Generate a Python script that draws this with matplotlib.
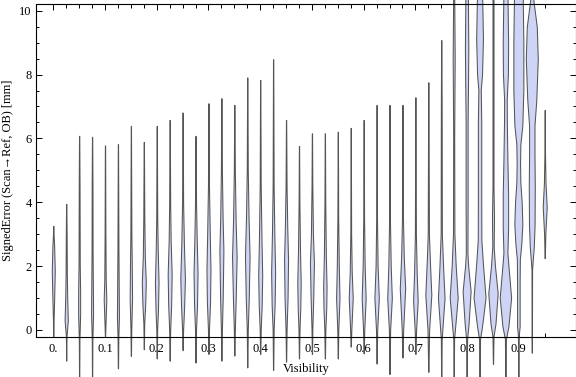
import matplotlib
matplotlib.use("Agg")
import matplotlib.pyplot as plt
import numpy as np

plt.rcParams["font.family"] = ["Liberation Serif", "DejaVu Serif"]
plt.rcParams["font.size"] = 9

# one violin per visibility bin (bin width 0.025)
visibility = [0.025 * i for i in range(39)]

# density profile of each violin: (signed error [mm], relative half width)
profiles = [
    [(-0.2, 0), (0.3, 0.3), (1.0, 0.9), (1.85, 1.5), (2.6, 0.9), (3.0, 0.3), (3.26, 0)],
    [(-0.96, 0), (-0.2, 0.3), (0.3, 1.6), (1.0, 1.0), (1.8, 0.6), (3.0, 0.4), (3.95, 0)],
    [(-1.6, 0), (-0.3, 0.3), (0.5, 1.0), (1.2, 1.0), (2.0, 0.6), (4.5, 0.4), (6.08, 0)],
    [(-1.6, 0), (-0.3, 0.3), (0.5, 1.0), (1.3, 0.8), (2.5, 0.5), (4.5, 0.4), (6.05, 0)],
    [(-0.2, 0), (0.3, 0.6), (0.95, 1.3), (1.6, 0.7), (3.0, 0.4), (5.78, 0)],
    [(-1.2, 0), (-0.2, 0.4), (0.4, 1.0), (1.2, 0.8), (2.5, 0.5), (5.82, 0)],
    [(-0.81, 0), (0.0, 0.4), (1.0, 1.2), (2.0, 0.9), (3.0, 0.5), (6.39, 0)],
    [(-0.6, 0), (0.2, 0.4), (0.8, 1.4), (1.5, 2.0), (2.3, 1.0), (3.5, 0.5), (5.89, 0)],
    [(-0.89, 0), (0.0, 0.4), (0.6, 1.2), (1.5, 1.8), (2.5, 1.0), (3.5, 0.5), (6.39, 0)],
    [(-0.96, 0), (0.0, 0.5), (0.8, 1.5), (1.75, 2.0), (2.8, 1.0), (4.0, 0.5), (6.58, 0)],
    [(-0.63, 0), (0.0, 0.5), (0.7, 1.5), (1.6, 2.3), (2.7, 1.3), (4.0, 0.5), (6.81, 0)],
    [(-1.02, 0), (0.0, 0.5), (0.8, 1.5), (1.8, 2.0), (2.8, 1.2), (4.0, 0.5), (6.08, 0)],
    [(-0.75, 0), (0.0, 0.5), (0.9, 1.6), (1.9, 2.0), (3.0, 1.3), (4.5, 0.5), (7.10, 0)],
    [(-0.96, 0), (0.0, 0.5), (1.0, 1.3), (2.5, 2.0), (3.5, 1.2), (5.0, 0.5), (7.26, 0)],
    [(-0.8, 0), (0.0, 0.5), (1.0, 1.4), (2.3, 2.3), (3.4, 1.3), (5.0, 0.5), (7.05, 0)],
    [(-1.17, 0), (0.0, 0.5), (1.0, 1.5), (2.3, 2.3), (3.5, 1.3), (5.0, 0.5), (7.91, 0)],
    [(-0.75, 0), (0.0, 0.5), (0.8, 1.5), (1.7, 2.0), (2.8, 1.3), (4.5, 0.5), (7.83, 0)],
    [(-1.25, 0), (0.0, 0.5), (0.8, 1.5), (1.8, 2.0), (3.0, 1.2), (4.5, 0.5), (8.48, 0)],
    [(-0.99, 0), (0.0, 0.5), (1.0, 1.5), (2.2, 2.0), (3.2, 1.2), (4.5, 0.5), (6.58, 0)],
    [(-0.89, 0), (0.0, 0.5), (0.7, 1.3), (1.5, 1.7), (2.5, 1.0), (4.0, 0.4), (5.76, 0)],
    [(-0.75, 0), (0.0, 0.4), (1.0, 1.3), (2.1, 2.0), (3.0, 1.0), (4.5, 0.4), (6.16, 0)],
    [(-0.89, 0), (0.0, 0.5), (0.7, 1.4), (1.35, 1.7), (2.3, 1.0), (4.0, 0.4), (6.16, 0)],
    [(-0.89, 0), (0.0, 0.5), (1.0, 1.7), (2.0, 1.0), (3.5, 0.4), (6.21, 0)],
    [(-0.52, 0), (0.0, 0.6), (1.0, 2.0), (1.8, 1.0), (3.0, 0.4), (6.33, 0)],
    [(-0.73, 0), (0.0, 0.6), (1.0, 2.0), (2.0, 1.0), (3.5, 0.4), (6.58, 0)],
    [(-1.05, 0), (0.0, 0.6), (1.0, 2.2), (2.0, 1.0), (3.5, 0.4), (7.05, 0)],
    [(-1.38, 0), (0.0, 0.6), (1.0, 2.3), (2.0, 1.2), (3.5, 0.4), (7.05, 0)],
    [(-0.86, 0), (0.0, 0.7), (1.3, 2.7), (2.3, 1.3), (3.5, 0.5), (7.05, 0)],
    [(-0.75, 0), (0.0, 0.7), (0.9, 2.3), (1.8, 1.3), (3.0, 0.5), (7.29, 0)],
    [(-1.31, 0), (0.0, 0.8), (1.1, 3.0), (2.2, 1.5), (3.0, 0.6), (7.76, 0)],
    [(-1.6, 0), (-0.3, 0.4), (0.2, 1.5), (1.0, 3.3), (2.0, 1.8), (3.0, 0.6), (7.0, 0.4), (9.08, 0)],
    [(-1.6, 0), (-0.3, 0.4), (0.2, 1.8), (1.0, 4.0), (2.0, 2.0), (3.0, 0.7), (6.0, 0.5),
     (8.5, 1.0), (10.6, 0.5)],
    [(-1.6, 0), (-0.3, 0.5), (0.2, 2.0), (1.2, 4.0), (2.0, 1.5), (2.4, 0.8), (4.0, 1.0),
     (6.5, 1.0), (7.7, 1.4), (8.8, 1.7), (10.6, 1.2)],
    [(-1.6, 0), (-0.3, 0.5), (0.1, 2.5), (1.0, 6.0), (2.0, 3.5), (2.8, 1.8), (4.0, 1.7),
     (6.5, 1.7), (7.5, 1.2), (8.0, 2.5), (9.1, 3.4), (10.6, 2.5)],
    [(-1.06, 0), (-0.2, 0.5), (0.2, 2.5), (1.15, 4.7), (2.0, 2.0), (2.6, 0.7), (3.5, 1.0),
     (4.5, 0.5), (10.6, 0.5)],
    [(-1.6, 0), (-0.3, 0.5), (0.1, 3.0), (1.0, 5.7), (2.0, 3.0), (2.4, 2.0), (3.2, 2.7),
     (4.2, 2.7), (5.3, 2.0), (6.5, 1.4), (7.2, 1.3), (8.0, 2.5), (9.0, 2.7), (10.6, 2.0)],
    [(-1.6, 0), (-0.2, 0.4), (0.1, 1.3), (1.5, 1.3), (2.2, 1.5), (2.7, 3.0), (3.3, 4.0),
     (4.0, 3.3), (4.6, 2.0), (5.2, 1.7), (5.8, 2.0), (6.4, 4.0), (7.5, 5.0), (9.0, 5.0),
     (10.6, 4.3)],
    [(-0.71, 0), (1.9, 0.3), (2.2, 1.0), (2.6, 2.0), (3.3, 2.8), (4.5, 3.0), (5.5, 2.7),
     (6.4, 2.7), (7.2, 4.5), (8.5, 6.0), (9.5, 5.0), (10.3, 1.7), (10.6, 1.0)],
    [(2.25, 0), (3.0, 0.6), (3.85, 2.0), (4.6, 0.8), (5.5, 0.3), (6.89, 0)],
]

major_ticks = [0.0, 0.1, 0.2, 0.3, 0.4, 0.5, 0.6, 0.7, 0.8, 0.9]
major_labels = ["0.", "0.1", "0.2", "0.3", "0.4", "0.5", "0.6", "0.7", "0.8", "0.9"]

width_scale = 0.025 / 12.94  # relative width unit -> visibility units

fig = plt.figure(figsize=(5.76, 3.77), dpi=100)
ax = fig.add_axes([36 / 576, 1 - 337.3 / 377, 539.5 / 576, 333 / 377])

for x, prof in zip(visibility, profiles):
    ys = np.array([p[0] for p in prof])
    hw = np.array([p[1] for p in prof]) * width_scale
    hw = np.maximum(hw, 0.12 * width_scale)
    ax.fill_betweenx(ys, x - hw, x + hw, facecolor="#cdd4f5",
                     edgecolor="#555555", linewidth=0.75, clip_on=False, zorder=2)

ax.set_xlim(-0.0334, 1.0095)
ax.set_ylim(-0.229, 10.2)

ax.set_xticks(major_ticks)
ax.set_xticklabels(major_labels)
ax.set_xticks(visibility, minor=True)
ax.set_yticks([0, 2, 4, 6, 8, 10])
ax.set_yticks(np.arange(0, 10.5, 0.5), minor=True)

ax.tick_params(which="both", direction="in", top=True, right=True,
               width=0.7, colors="black", labelsize=9)
ax.tick_params(axis="x", which="both", pad=4)
ax.tick_params(axis="y", which="both", pad=3)
ax.tick_params(which="major", length=4)
ax.tick_params(which="minor", length=3)
ax.tick_params(axis="y", which="minor", length=2.5)

for s in ax.spines.values():
    s.set_linewidth(0.8)
    s.set_zorder(3)

ax.set_xlabel("Visibility", labelpad=6)
ax.set_ylabel("SignedError (Scan\u2192Ref, OB) [mm]", labelpad=4)

fig.savefig("out.png", dpi=100)
